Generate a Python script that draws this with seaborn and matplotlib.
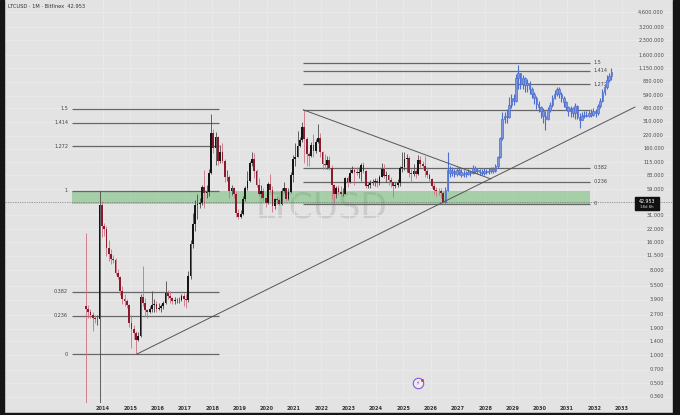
import numpy as np
import pandas as pd
import matplotlib
matplotlib.use("Agg")
import matplotlib.pyplot as plt
from matplotlib.patches import Rectangle
from matplotlib.ticker import NullLocator
from matplotlib.transforms import blended_transform_factory
import seaborn as sns

# ---- data (monthly candles) ----
hist_start = (2013, 5)
hist_open0 = 3.3
hist_close = [3.1, 2.9, 2.7, 2.5, 2.4, 2.4, 40, 24,
              22, 14, 12, 10.5, 10.3, 7.6, 6.8, 4.8, 4.0, 3.8, 3.4, 2.2,
              1.9, 1.7, 1.45, 1.6, 4.2, 3.6, 3.0, 2.9, 3.1, 3.4, 3.5, 3.1,
              3.2, 3.3, 3.6, 4.6, 4.3, 4.1, 3.8, 3.9, 3.9, 3.9, 4.3, 4.0,
              3.9, 7.0, 15.5, 25, 40, 41, 42, 62, 54, 55, 88, 232,
              163, 213, 118, 148, 119, 80, 80, 56, 61, 52, 33, 30,
              32, 46, 60, 73, 113, 123, 93, 65, 53, 56, 48, 42,
              67, 58, 39, 46, 45, 41, 57, 60, 46, 55, 84, 125,
              131, 170, 196, 270, 205, 140, 132, 174, 152, 190, 210, 147,
              110, 108, 122, 100, 66, 52, 60, 55, 53, 53, 77, 70,
              88, 94, 90, 88, 90, 107, 92, 64, 65, 69, 70, 73,
              69, 80, 98, 81, 83, 74, 70, 64, 66, 68, 100, 103,
              125, 128, 87, 86, 92, 86, 120, 110, 105, 92, 84, 75,
              64, 58, 57, 56, 54, 42.953]
hist_high = [20, 3.4, 3.1, 2.9, 2.7, 2.7, 57, 44,
             26, 24, 17, 13.5, 11.8, 10.8, 8.2, 7.0, 5.4, 4.5, 4.0, 3.5,
             2.7, 2.1, 1.8, 1.75, 4.5, 9.0, 4.1, 3.1, 3.3, 4.8, 4.0, 3.8,
             3.6, 3.5, 3.8, 6.1, 4.9, 4.8, 4.2, 4.2, 4.1, 4.2, 4.5, 4.6,
             4.5, 7.8, 17, 33, 45, 52, 48, 66, 95, 65, 98, 375,
             260, 240, 220, 175, 182, 124, 94, 83, 66, 62, 56, 36,
             35, 50, 64, 92, 118, 146, 145, 97, 78, 65, 60, 48,
             70, 85, 64, 48, 50, 48, 60, 71, 61, 60, 90, 138,
             183, 247, 215, 305, 415, 215, 147, 189, 228, 202, 296, 234,
             151, 139, 135, 134, 106, 67, 64, 66, 64, 60, 80, 81,
             97, 104, 101, 103, 101, 113, 115, 94, 69, 74, 76, 78,
             77, 84, 112, 110, 92, 85, 79, 71, 71, 75, 105, 147,
             147, 140, 132, 97, 110, 98, 137, 133, 118, 135, 103, 88,
             78, 68, 62, 61, 60, 56]
hist_low = [0.2, 2.5, 2.5, 1.8, 2.2, 2.1, 0.25, 18,
            18.5, 11.5, 10.2, 9.3, 9.5, 7.2, 6.5, 4.4, 3.5, 3.3, 3.2, 2.0,
            1.19, 1.5, 1.02, 1.4, 1.55, 3.3, 2.6, 2.5, 2.8, 2.9, 2.9, 2.9,
            3.0, 2.9, 3.1, 3.5, 4.0, 3.6, 3.5, 3.5, 3.6, 3.6, 3.8, 3.3,
            3.2, 3.7, 6.5, 14, 21, 28, 37, 40, 37, 47, 50, 85,
            145, 108, 108, 112, 112, 70, 72, 48, 51, 48, 30, 28,
            29, 31, 44, 58, 71, 104, 78, 62, 50, 48, 44, 38,
            41, 55, 34, 36, 41, 40, 40, 55, 44, 45, 54, 70,
            105, 130, 167, 186, 112, 105, 105, 130, 130, 145, 182, 130,
            98, 98, 98, 95, 46, 42, 47, 52, 50, 50, 53, 62,
            68, 88, 65, 83, 77, 72, 88, 60, 60, 61, 65, 64,
            62, 66, 80, 78, 71, 66, 62, 49, 60, 63, 64, 90,
            95, 90, 80, 70, 82, 78, 84, 102, 98, 80, 78, 70,
            60, 52, 50, 51, 48, 41.3]

# projected bars (blue)
proj_start = (2026, 7)
proj_open0 = 42.953
proj_close = [58, 95, 88, 92, 85, 95, 90, 84, 88, 86,
              90, 88, 100, 92, 95, 90, 88, 92, 90, 93,
              96, 92, 105, 130, 210, 330, 360, 350, 470, 560,
              520, 900, 1020, 780, 900, 760, 800, 700, 620, 560,
              480, 440, 400, 360, 330, 410, 470, 560, 620, 700,
              610, 560, 500, 440, 400, 430, 380, 460, 350, 320,
              360, 370, 360, 380, 370, 400, 380, 460, 520, 640,
              720, 870, 960, 1050]
proj_high = [62, 147, 105, 101, 98, 102, 100, 96, 95, 93,
             97, 95, 108, 104, 100, 98, 96, 99, 98, 100,
             102, 101, 110, 135, 215, 390, 395, 420, 570, 610,
             620, 1000, 1250, 1030, 980, 920, 880, 850, 720, 640,
             580, 520, 460, 430, 400, 440, 500, 600, 680, 730,
             720, 640, 590, 520, 460, 460, 450, 490, 470, 380,
             390, 400, 400, 410, 420, 430, 420, 480, 560, 700,
             760, 980, 1020, 1170]
proj_low = [42, 57, 80, 82, 80, 82, 84, 80, 80, 80,
            83, 82, 86, 87, 85, 84, 83, 84, 85, 86,
            88, 88, 90, 100, 128, 200, 300, 300, 340, 430,
            470, 500, 700, 700, 700, 650, 640, 620, 560, 480,
            420, 390, 340, 300, 250, 320, 390, 450, 540, 590,
            560, 500, 450, 410, 360, 350, 350, 330, 330, 265,
            320, 340, 345, 350, 350, 355, 350, 370, 430, 500,
            600, 700, 820, 870]

year_ticks = list(range(2014, 2034))
price_ticks = [0.36, 0.5, 0.7, 1.0, 1.4, 1.9, 2.7, 3.9, 5.5, 8.0, 11.5, 16.0,
               22.0, 31.0, 59.0, 83.0, 115.0, 160.0, 220.0, 310.0, 430.0,
               590.0, 830.0, 1150.0, 1600.0, 2300.0, 3200.0, 4600.0]

fib_ratios = [0, 0.236, 0.382, 1, 1.272, 1.414, 1.5]
fib_a_labels = ["0", "0.236", "0.382", "1", "1.272", "1.414", "1.5"]
fib_b_labels = ["0", "0.236", "0.382", "", "1.272", "1.414", "1.5"]
fib_a_range = (1.02, 57.0)      # 2015 low -> 2013 high
fib_b_range = (41.3, 416.0)     # 2026 low -> 2021 high
fib_a_span = (2012.86, 2018.25)
fib_b_span = (2021.33, 2031.84)

trend_down = ([2021.33, 2028.21], [416.0, 75.8])
trend_up = ([2015.23, 2033.49], [1.02, 445.0])
last_price = 42.953


def make_bars(start, open0, close, high, low):
    n = len(close)
    t = start[0] + (start[1] - 1 + np.arange(n) + 0.5) / 12
    df = pd.DataFrame({"t": t, "close": close, "high": high, "low": low})
    df["open"] = [open0] + list(close[:-1])
    return df


def draw_candles(ax, df, up_body, down_body, up_wick, down_wick, width, edge=None, wick_lw=0.6):
    up = df["close"] >= df["open"]
    ax.vlines(df["t"], df["low"], df["high"], colors=np.where(up, up_wick, down_wick),
              lw=wick_lw, zorder=3)
    bottom = np.minimum(df["open"], df["close"])
    height = (df["close"] - df["open"]).abs()
    ax.bar(df["t"], height, bottom=bottom, width=width,
           color=np.where(up, up_body, down_body),
           edgecolor=edge if edge else "none", lw=0.5 if edge else 0, zorder=4)


def fib_levels(lo, hi):
    return [10 ** (np.log10(lo) + r * (np.log10(hi) - np.log10(lo))) for r in fib_ratios]


hist = make_bars(hist_start, hist_open0, hist_close, hist_high, hist_low)
proj = make_bars(proj_start, proj_open0, proj_close, proj_high, proj_low)

sns.set_style("white")
plt.rcParams["font.family"] = ["DejaVu Sans"]

BG = "#e3e3e3"
fig = plt.figure(figsize=(6.8, 4.15), dpi=100, facecolor=BG)
ax = fig.add_axes([4 / 680, 12 / 415, 668 / 680, 403 / 415])
ax.set_facecolor(BG)
ax.set_yscale("log")
ax.set_xlim(2010.374, 2034.842)
ax.set_ylim(0.3072, 6181)
for s in ax.spines.values():
    s.set_visible(False)

ax.set_xticks(year_ticks)
ax.set_xticklabels([str(y) for y in year_ticks])
ax.set_yticks(price_ticks)
ax.set_yticklabels([])
ax.yaxis.set_minor_locator(NullLocator())
ax.tick_params(axis="both", length=0)
ax.tick_params(axis="x", pad=2.4, labelsize=3.6, labelcolor="#333333")
for lbl in ax.get_xticklabels():
    lbl.set_fontweight("bold")
ax.grid(True, color="#ebebeb", lw=0.6, zorder=0)
ax.set_axisbelow(True)

# price labels inside the chart, right side
ytrans = blended_transform_factory(ax.transAxes, ax.transData)
for v in price_ticks:
    ax.text(660 / 668, v, f"{v:,.3f}", transform=ytrans, ha="right", va="center",
            fontsize=3.6, color="#4a4a4a")

# watermark
ax.text(318 / 668, (403 - 207) / 403, "LTCUSD", transform=ax.transAxes,
        ha="center", va="center", fontsize=25, color="#cbcbcb", zorder=0.5)

# green zone
zone_lo, zone_hi = fib_b_range[0], fib_a_range[1]
ax.add_patch(Rectangle((fib_a_span[0], zone_lo), fib_b_span[1] - fib_a_span[0],
                       zone_hi - zone_lo, facecolor="#4caf50", alpha=0.4, lw=0, zorder=1))

# fib retracements
for lvl, lab in zip(fib_levels(*fib_a_range), fib_a_labels):
    ax.hlines(lvl, *fib_a_span, colors="#666666", lw=0.9, zorder=2)
    ax.text(fib_a_span[0] - 0.14, lvl, lab, ha="right", va="center", fontsize=3.5, color="#444444")
for lvl, lab in zip(fib_levels(*fib_b_range), fib_b_labels):
    ax.hlines(lvl, *fib_b_span, colors="#666666", lw=0.9, zorder=2)
    ax.text(fib_b_span[1] + 0.12, lvl, lab, ha="left", va="center", fontsize=3.5, color="#444444")

# trend lines
sns.lineplot(x=trend_down[0], y=trend_down[1], ax=ax, color="#555555", lw=0.7, zorder=5)
sns.lineplot(x=trend_up[0], y=trend_up[1], ax=ax, color="#555555", lw=0.7, zorder=5)

# candles
draw_candles(ax, hist, "#151515", "#8c1a2c", "#4a4a4a", "#cf6f82", 0.065)
draw_candles(ax, proj, "#7d97dd", "#7d97dd", "#4d6ed1", "#4d6ed1", 0.06,
             edge="#4d6ed1", wick_lw=0.8)

# last price line
ax.axhline(last_price, color="#555555", lw=0.5, ls=(0, (1, 1.5)), zorder=6)
ax.set_xlabel("")
ax.set_ylabel("")

# lightning icon
ax.plot([(418 - 4) / 668], [(403 - 383) / 403], marker="o", ms=7.5, mfc="#efedf3",
        mec="#8a55d6", mew=0.8, transform=ax.transAxes, clip_on=False, zorder=7)
ax.text((418 - 4) / 668, (403 - 383) / 403, "\u26a1", transform=ax.transAxes, ha="center",
        va="center", fontsize=4.2, color="#8a55d6", zorder=8)
ax.plot([(421.5 - 4) / 668], [(403 - 379.5) / 403], marker="o", ms=2.2, mfc="#e53950",
        mec="none", transform=ax.transAxes, clip_on=False, zorder=9)

# title
fig.text(8 / 680, 1 - 7 / 415, "LTCUSD \u00b7 1M \u00b7 Bitfinex  42.953", fontsize=3.7,
         color="#333333", va="center", ha="left")

# price box
fig.patches.append(Rectangle((635 / 680, 1 - 210.5 / 415), 24 / 680, 13 / 415,
                             transform=fig.transFigure, color="#111111", zorder=10))
fig.text(647 / 680, 1 - 201.2 / 415, "42.953", fontsize=3.4, color="white",
         ha="center", va="center", zorder=11)
fig.text(647 / 680, 1 - 207.3 / 415, "18d 6h", fontsize=2.8, color="#dddddd",
         ha="center", va="center", zorder=11)

# dark screen borders
for x0, y0, w, h in [(0, 0, 4, 415), (673, 0, 7, 415), (0, 0, 680, 2)]:
    fig.patches.append(Rectangle((x0 / 680, y0 / 415), w / 680, h / 415,
                                 transform=fig.transFigure, color="#161616", zorder=20))

fig.savefig("out.png", dpi=100, facecolor=BG)
